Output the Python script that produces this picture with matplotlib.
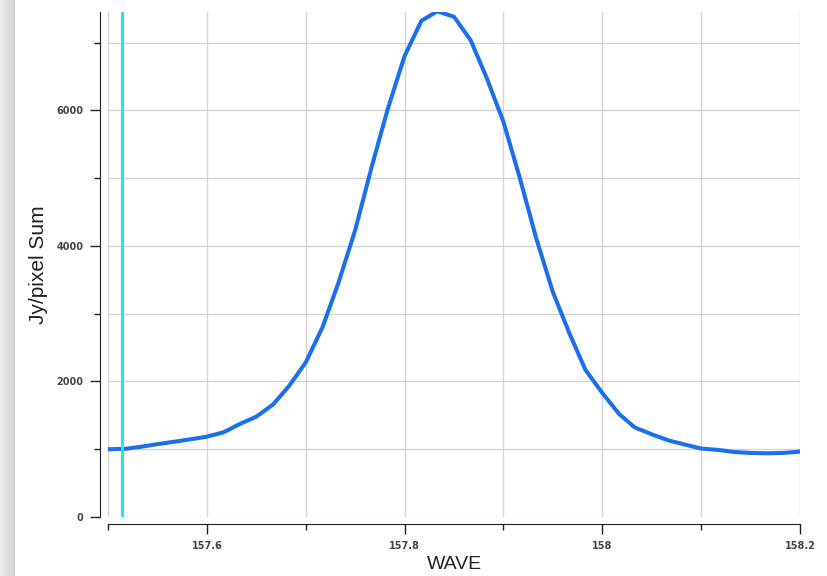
import numpy as np
import matplotlib.pyplot as plt
from matplotlib.ticker import MultipleLocator, FuncFormatter

plt.rcParams['font.family'] = ['Liberation Sans', 'DejaVu Sans']

# spectrum values
wave = [157.500, 157.517, 157.533, 157.550, 157.567, 157.583, 157.600, 157.617,
        157.633, 157.650, 157.667, 157.683, 157.700, 157.717, 157.733, 157.750,
        157.767, 157.783, 157.800, 157.817, 157.833, 157.850, 157.867, 157.883,
        157.900, 157.917, 157.933, 157.950, 157.967, 157.983, 158.000, 158.017,
        158.033, 158.050, 158.067, 158.083, 158.100, 158.117, 158.133, 158.150,
        158.167, 158.183, 158.200]
flux = [1000, 1005, 1035, 1075, 1110, 1145, 1185, 1250,
        1370, 1480, 1660, 1930, 2280, 2800, 3450, 4230,
        5180, 6020, 6800, 7320, 7460, 7380, 7030, 6480,
        5830, 4980, 4120, 3320, 2700, 2170, 1830, 1520,
        1320, 1220, 1130, 1070, 1010, 990, 960, 945,
        940, 945, 965]
marker_wave = 157.514

fig = plt.figure(figsize=(8.28, 5.76), dpi=100)

# grey strip on the left edge
strip = fig.add_axes([0, 0, 15 / 828, 1])
grad = np.linspace(0.93, 0.82, 50).reshape(1, -1)
strip.imshow(grad, cmap='gray', vmin=0, vmax=1, aspect='auto')
strip.axis('off')

ax = fig.add_axes([108 / 828, 1 - 517 / 576, 692 / 828, 505 / 576])

ax.plot(wave, flux, color='#1a6ff0', lw=2.9, solid_capstyle='round', zorder=3)
ax.axvline(marker_wave, color='#1ee8f2', lw=2.2, zorder=4)

ax.set_xlim(157.5, 158.2)
ax.set_ylim(0, 7450)

ax.xaxis.set_major_locator(MultipleLocator(0.2))
ax.xaxis.set_minor_locator(MultipleLocator(0.1))
ax.yaxis.set_major_locator(MultipleLocator(2000))
ax.yaxis.set_minor_locator(MultipleLocator(1000))
ax.xaxis.set_major_formatter(FuncFormatter(lambda v, p: f"{round(v, 3):g}"))

ax.grid(True, which='both', color='#d4d4d4', lw=1.0, zorder=0)
ax.set_axisbelow(True)

for s in ['top', 'right']:
    ax.spines[s].set_visible(False)
ax.spines['left'].set_position(('outward', 5.8))
ax.spines['bottom'].set_position(('outward', 5.2))
ax.spines['left'].set_color('#222222')
ax.spines['bottom'].set_color('#222222')

ax.tick_params(which='major', length=7, width=1, color='#222222',
               labelsize=7, labelcolor='#444444', pad=5)
ax.tick_params(which='minor', length=4.5, width=1, color='#222222')
for lab in ax.get_xticklabels() + ax.get_yticklabels():
    lab.set_family('DejaVu Sans')
    lab.set_fontweight('bold')

ax.set_xlabel('WAVE', fontsize=14, color='#222222', labelpad=4)
ax.set_ylabel('Jy/pixel Sum', fontsize=15, color='#222222', labelpad=6)

fig.savefig('out.png', dpi=100)
